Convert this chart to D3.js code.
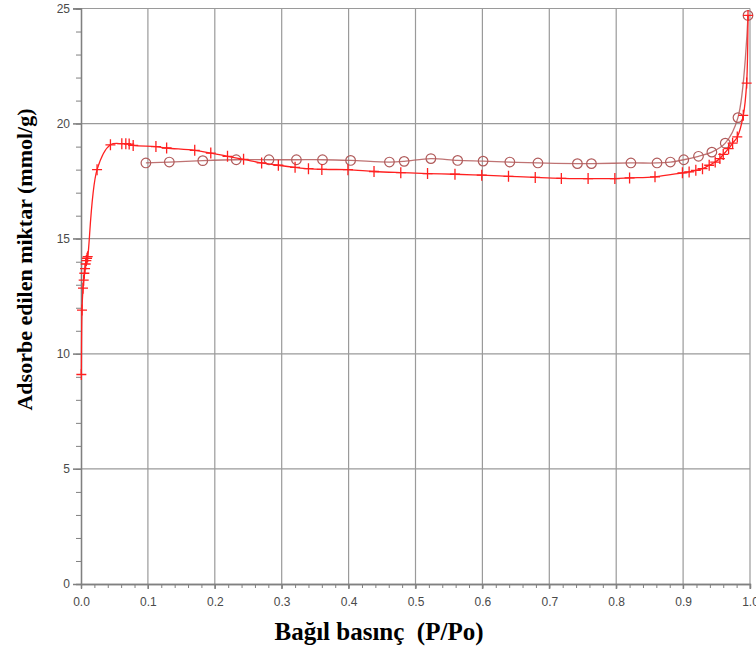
<!DOCTYPE html>
<html>
<head>
<meta charset="utf-8">
<script src="https://cdn.jsdelivr.net/npm/d3@7"></script>
<style>
  body { margin: 0; background: #fff; }
  svg { display: block; }
</style>
</head>
<body>
<div id="chart"></div>
<script>
// adsorption branch (+ markers)
var adsX = [0.0005, 0.0015, 0.003, 0.004, 0.005, 0.006, 0.007, 0.008, 0.009, 0.010,
  0.024, 0.044, 0.061, 0.067, 0.072, 0.078, 0.112, 0.128, 0.170, 0.194, 0.219, 0.243,
  0.270, 0.295, 0.320, 0.340, 0.360, 0.399, 0.438, 0.478, 0.518, 0.559, 0.599, 0.639,
  0.679, 0.718, 0.758, 0.798, 0.820, 0.858, 0.899, 0.909, 0.919, 0.929, 0.939, 0.948,
  0.955, 0.960, 0.968, 0.974, 0.981, 0.990, 0.995, 0.997];
var adsY = [9.1, 11.9, 12.85, 13.2, 13.5, 13.7, 13.9, 14.05, 14.15, 14.22,
  18.0, 19.08, 19.13, 19.13, 19.11, 19.05, 19.0, 18.94, 18.84, 18.72, 18.58, 18.45,
  18.29, 18.19, 18.1, 18.04, 18.01, 18.0, 17.92, 17.87, 17.83, 17.8, 17.76, 17.71,
  17.66, 17.62, 17.61, 17.61, 17.64, 17.69, 17.86, 17.9, 17.97, 18.04, 18.19, 18.33,
  18.48, 18.66, 18.91, 19.15, 19.42, 20.36, 21.76, 24.7];

// desorption branch (circle markers)
var desX = [0.997, 0.982, 0.963, 0.943, 0.923, 0.901, 0.881, 0.861, 0.822, 0.763, 0.742,
  0.683, 0.641, 0.601, 0.563, 0.523, 0.483, 0.461, 0.403, 0.361, 0.322, 0.281, 0.232,
  0.182, 0.132, 0.097];
var desY = [24.7, 20.26, 19.15, 18.76, 18.58, 18.43, 18.33, 18.29, 18.29, 18.26, 18.26,
  18.29, 18.33, 18.37, 18.40, 18.48, 18.36, 18.33, 18.40, 18.43, 18.43, 18.43, 18.43,
  18.39, 18.33, 18.29];

var xTicks = [0, 0.1, 0.2, 0.3, 0.4, 0.5, 0.6, 0.7, 0.8, 0.9, 1.0];
var yTicks = [0, 5, 10, 15, 20, 25];

var W = 756, H = 652;
var margin = { top: 8.5, right: 6, bottom: 68, left: 81 };

var svg = d3.select("#chart").append("svg")
  .attr("width", W).attr("height", H);

var x = d3.scaleLinear().domain([0, 1]).range([margin.left, W - margin.right]);
var y = d3.scaleLinear().domain([0, 25]).range([H - margin.bottom, margin.top]);

var ads = adsX.map(function(d, i) { return [d, adsY[i]]; });
var des = desX.map(function(d, i) { return [d, desY[i]]; });

// グリッド
var grid = svg.append("g");
grid.selectAll(".gx").data(xTicks.slice(1)).enter().append("line")
  .attr("x1", function(d) { return x(d); }).attr("x2", function(d) { return x(d); })
  .attr("y1", y(25)).attr("y2", y(0) + 5)
  .attr("stroke", "#9a9a9a").attr("stroke-width", 1.2);
grid.selectAll(".gy").data(yTicks.slice(1)).enter().append("line")
  .attr("x1", x(0) - 8).attr("x2", x(1))
  .attr("y1", function(d) { return y(d); }).attr("y2", function(d) { return y(d); })
  .attr("stroke", "#9a9a9a").attr("stroke-width", 1.2);

// 軸
var xAxis = svg.append("g")
  .attr("transform", "translate(0," + y(0) + ")")
  .call(d3.axisBottom(x).tickValues(d3.range(0, 1.001, 0.02)).tickSize(4).tickFormat(""));
var xLab = svg.append("g")
  .attr("transform", "translate(0," + y(0) + ")")
  .call(d3.axisBottom(x).tickValues(xTicks).tickSize(5).tickPadding(8).tickFormat(d3.format(".1f")));
var yAxis = svg.append("g")
  .attr("transform", "translate(" + x(0) + ",0)")
  .call(d3.axisLeft(y).tickValues(d3.range(0, 25.01, 1)).tickSize(5).tickFormat(""));
var yLab = svg.append("g")
  .attr("transform", "translate(" + x(0) + ",0)")
  .call(d3.axisLeft(y).tickValues(yTicks).tickSize(8).tickPadding(3));

[xAxis, xLab, yAxis, yLab].forEach(function(g) {
  g.selectAll("path.domain").attr("stroke", "#808080").attr("stroke-width", 1.3);
  g.selectAll(".tick line").attr("stroke", "#808080");
  g.selectAll("text").attr("fill", "#4a4a4a")
    .style("font-family", "Liberation Sans, Arial, sans-serif").style("font-size", "12px");
});

var line = d3.line()
  .x(function(d) { return x(d[0]); })
  .y(function(d) { return y(d[1]); })
  .curve(d3.curveCatmullRom.alpha(0.5));

// 脱着
svg.append("path").datum(des).attr("d", line)
  .attr("fill", "none").attr("stroke", "#b45a5a").attr("stroke-opacity", 0.85).attr("stroke-width", 1.3);
svg.selectAll(".des").data(des).enter().append("circle")
  .attr("cx", function(d) { return x(d[0]); })
  .attr("cy", function(d) { return y(d[1]); })
  .attr("r", 4.8)
  .attr("fill", "none").attr("stroke", "#b05a5a").attr("stroke-width", 1.2);

// 吸着
svg.append("path").datum(ads).attr("d", line)
  .attr("fill", "none").attr("stroke", "#ff2020").attr("stroke-width", 1.3);
svg.selectAll(".ads").data(ads).enter().append("path")
  .attr("transform", function(d) { return "translate(" + x(d[0]) + "," + y(d[1]) + ")"; })
  .attr("d", "M-5,0H5M0,-5.5V5.5")
  .attr("fill", "none").attr("stroke", "#ff2020").attr("stroke-width", 1.3);

// タイトル
svg.append("text")
  .attr("x", 379).attr("y", 640)
  .attr("text-anchor", "middle")
  .style("font-family", "Liberation Serif, Times New Roman, serif")
  .style("font-weight", "bold").style("font-size", "25px")
  .style("white-space", "pre")
  .text("Bağıl basınç  (P/Po)");
svg.append("text")
  .attr("transform", "translate(32,259.5) rotate(-90)")
  .attr("text-anchor", "middle")
  .style("font-family", "Liberation Serif, Times New Roman, serif")
  .style("font-weight", "bold").style("font-size", "22px")
  .text("Adsorbe edilen miktar (mmol/g)");
</script>
</body>
</html>
